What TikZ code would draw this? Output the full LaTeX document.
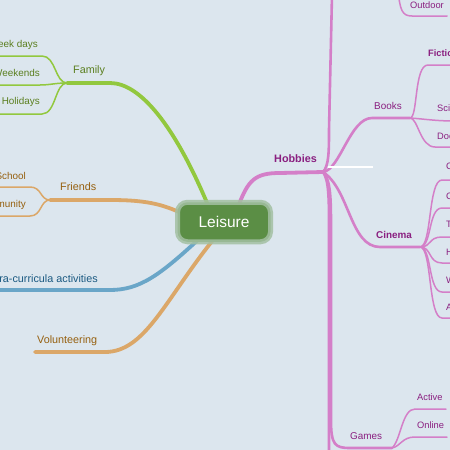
\documentclass[tikz,border=0pt]{standalone}
\usepackage{fontspec}
\setmainfont{Liberation Sans}
\definecolor{bg}{HTML}{DCE6EE}
\definecolor{famc}{HTML}{92C83E}
\definecolor{famt}{HTML}{5B7F1F}
\definecolor{orc}{HTML}{DBA768}
\definecolor{ort}{HTML}{96600F}
\definecolor{blc}{HTML}{6AA6C8}
\definecolor{blt}{HTML}{1B5A82}
\definecolor{pkc}{HTML}{D47FC8}
\definecolor{pkt}{HTML}{8A1F80}
\definecolor{lsf}{HTML}{5B8E45}
\definecolor{lsh}{HTML}{A3C0A2}
\begin{document}
\begin{tikzpicture}[x=1pt,y=-1pt,
  lone/.style={font=\fontsize{10.8}{12}\selectfont, inner sep=0pt},
  ltwo/.style={font=\fontsize{9.9}{11}\selectfont, inner sep=0pt},
  lthree/.style={font=\fontsize{9.3}{11}\selectfont, inner sep=0pt},
  mainline/.style={line width=3.8, line cap=round},
  subline/.style={line width=2.6, line cap=round},
  leafline/.style={line width=1.5, line cap=round},
  leisurebox/.style={rounded corners=10, minimum width=93, minimum height=39.5,
    fill=lsf, draw=lsh, draw opacity=0.85, line width=5, text=white,
    font=\fontsize{15.5}{17}\selectfont}
]
\useasboundingbox (0,0) rectangle (450,450);
\fill[bg] (0,0) rectangle (450,450);
\clip (0,0) rectangle (450,450);

% coordinates
\coordinate (famS) at (210,210);
\coordinate (famj) at (67,83);
\coordinate (wkdE) at (-5,56);
\coordinate (wkeE) at (-5,85);
\coordinate (holE) at (-5,114);
\coordinate (frS) at (190,217);
\coordinate (frj) at (50,200);
\coordinate (schE) at (-5,187);
\coordinate (comE) at (-5,216);
\coordinate (blS) at (200,238);
\coordinate (blE) at (-5,290);
\coordinate (voS) at (213,240);
\coordinate (voE) at (35,352);
\coordinate (hoS) at (238,207);
\coordinate (hobj) at (323,172);
\coordinate (upE) at (332,-5);
\coordinate (downE) at (329,455);
\coordinate (booksj) at (410,118);
\coordinate (ficE) at (455,65);
\coordinate (sciE) at (455,121);
\coordinate (docE) at (455,147);
\coordinate (cinj) at (420,247);
\coordinate (gamesj) at (392,448);
\coordinate (actE) at (446,409);
\coordinate (onlE) at (447,437);
\coordinate (outS) at (398,-10);
\coordinate (outE) at (447,16);
\coordinate (wA) at (328,167);
\coordinate (wB) at (373,167);

% Family
\draw[famc, mainline] (famS) .. controls (175,125) and (140,83) .. (110,83) -- (famj);
\draw[famc, leafline] (famj) .. controls (55,83) and (56,56) .. (42,56) -- (wkdE);
\draw[famc, leafline] (famj) .. controls (55,83) and (50,85) .. (40,85) -- (wkeE);
\draw[famc, leafline] (famj) .. controls (55,83) and (56,114) .. (42,114) -- (holE);

% Friends
\draw[orc, mainline] (frS) .. controls (165,205) and (150,200) .. (110,200) -- (frj);
\draw[orc, leafline] (frj) .. controls (40,200) and (42,187) .. (30,187) -- (schE);
\draw[orc, leafline] (frj) .. controls (40,200) and (42,216) .. (30,216) -- (comE);

% Extra-curricula
\draw[blc, mainline] (blS) .. controls (160,275) and (140,290) .. (110,290) -- (blE);

% Volunteering
\draw[orc, mainline] (voS) .. controls (165,300) and (145,352) .. (105,352) -- (voE);

% Hobbies
\draw[pkc, mainline] (hoS) .. controls (248,180) and (255,173) .. (280,173) -- (hobj);
\draw[pkc, subline] (hobj) .. controls (329,166) and (329,150) .. (329,130) -- (upE);
\draw[pkc, subline] (hobj) .. controls (329,180) and (329,200) .. (329,230) -- (downE);
\draw[pkc, subline] (hobj) .. controls (340,170) and (350,118) .. (372,118) -- (booksj);
\draw[pkc, subline] (hobj) .. controls (350,190) and (350,247) .. (380,247) -- (cinj);
\draw[pkc, subline] (hobj) .. controls (331,180) and (331,200) .. (331,230) -- (331,420)
   .. controls (331,445) and (335,448) .. (350,448) -- (gamesj);
\draw[white, line width=1.3] (wA) -- (wB);

% Books leaves
\draw[pkc, leafline] (booksj) .. controls (418,118) and (414,65) .. (428,65) -- (ficE);
\draw[pkc, leafline] (booksj) .. controls (425,119) and (435,121) .. (sciE);
\draw[pkc, leafline] (booksj) .. controls (418,118) and (420,147) .. (435,147) -- (docE);

% Cinema leaves
\foreach \i/\y in {1/180,2/208,3/237,4/263,5/292,6/318}{
  \coordinate (cin\i) at (455,\y);
  \draw[pkc, leafline] (cinj) .. controls (432,247) and (428,\y) .. (442,\y) -- (cin\i);
}

% Games leaves
\draw[pkc, leafline] (gamesj) .. controls (401,440) and (402,409) .. (415,409) -- (actE);
\draw[pkc, leafline] (gamesj) .. controls (401,446) and (402,437) .. (415,437) -- (onlE);

% Outdoor
\draw[pkc, leafline] (outS) .. controls (400,10) and (402,16) .. (412,16) -- (outE);

% central node
\node[leisurebox] (leisure) at (224,222) {Leisure};

% labels
\node[ltwo, text=famt, anchor=east] (wkd) at (38,45) {Week days};
\node[ltwo, text=famt, anchor=east] (wke) at (40,73) {Weekends};
\node[ltwo, text=famt, anchor=east] (hol) at (40,102) {Holidays};
\node[lone, text=famt, anchor=west] (fam) at (73,71) {Family};
\node[lone, text=ort, anchor=west] (fr) at (60,187) {Friends};
\node[ltwo, text=ort, anchor=east] (sch) at (26,176) {School};
\node[ltwo, text=ort, anchor=east] (com) at (26,205) {Community};
\node[lone, text=blt, anchor=east] (eca) at (98,279) {Extra-curricula activities};
\node[lone, text=ort, anchor=west] (vol) at (37,341) {Volunteering};
\node[lone, text=pkt, font=\fontsize{10.8}{12}\selectfont\bfseries, anchor=west] (hob) at (274,159) {Hobbies};
\node[lthree, text=pkt, anchor=west] (out) at (410,5) {Outdoor};
\node[ltwo, text=pkt, anchor=west] (books) at (374,106) {Books};
\node[lthree, text=pkt, font=\fontsize{9.3}{11}\selectfont\bfseries, anchor=west] (fic) at (428,53) {Fiction};
\node[lthree, text=pkt, anchor=west] (sci) at (437,108) {Science};
\node[lthree, text=pkt, anchor=west] (doc) at (437,137) {Documentary};
\node[ltwo, text=pkt, font=\fontsize{9.9}{11}\selectfont\bfseries, anchor=west] (cin) at (376,235) {Cinema};
\node[lthree, text=pkt, anchor=west] (c1) at (446,167) {Comedy};
\node[lthree, text=pkt, anchor=west] (c2) at (446,196) {Crime};
\node[lthree, text=pkt, anchor=west] (c3) at (446,224) {Thriller};
\node[lthree, text=pkt, anchor=west] (c4) at (446,252) {Horror};
\node[lthree, text=pkt, anchor=west] (c5) at (446,280) {Western};
\node[lthree, text=pkt, anchor=west] (c6) at (446,307) {Action};
\node[ltwo, text=pkt, anchor=west] (games) at (350,436) {Games};
\node[lthree, text=pkt, anchor=west] (act) at (417,397) {Active};
\node[lthree, text=pkt, anchor=west] (onl) at (417,425) {Online};
\end{tikzpicture}
\end{document}
